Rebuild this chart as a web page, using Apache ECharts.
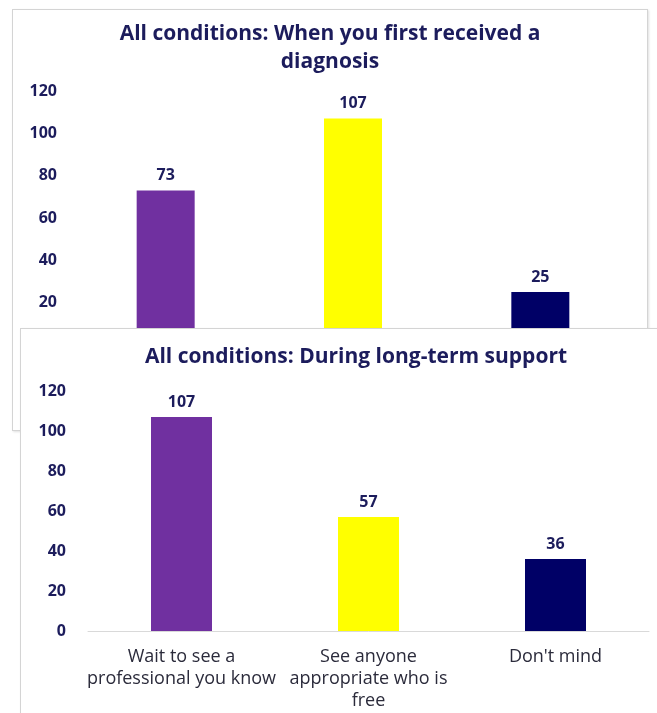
<!DOCTYPE html>
<html>
<head>
<meta charset="utf-8">
<script src="https://cdn.jsdelivr.net/npm/echarts@6/dist/echarts.min.js"></script>
<style>
    html, body { margin: 0; padding: 0; background: #fff; overflow: hidden; width: 657px; height: 713px; }
    .panel { position: absolute; background: #fff; border: 1px solid #d4d4d4; box-shadow: 1px 1px 2px rgba(0,0,0,0.12); }
    #diagnosisChart { left: 12px; top: 9px; width: 634px; height: 420px; }
    #supportChart { left: 20px; top: 328px; width: 670px; height: 400px; }
</style>
</head>
<body>
<div id="diagnosisChart" class="panel"></div>
<div id="supportChart" class="panel"></div>
<script>
    var categories = ['Wait to see a\nprofessional you know', 'See anyone\nappropriate who is\nfree', "Don't mind"];
    var diagnosisValues = [73, 107, 25];
    var supportValues = [107, 57, 36];
    var barColors = ['#7030a0', '#ffff00', '#000066'];
    var yTicks = [0, 20, 40, 60, 80, 100, 120];

    var navy = '#1c1c5c';
    var font = 'Open Sans';

    function makeOption(title, values, grid, titleTop, labelMargin, barWidth) {
        return {
            animation: false,
            title: {
                text: title,
                left: 'center',
                top: titleTop,
                textStyle: { fontFamily: font, fontSize: 21, fontWeight: 'bold', color: navy, lineHeight: 28 }
            },
            grid: grid,
            xAxis: {
                type: 'category',
                data: categories,
                axisLine: { lineStyle: { color: '#d9d9d9', width: 1 } },
                axisTick: { show: false },
                axisLabel: { fontFamily: font, fontSize: 18, color: '#2b2b3b', lineHeight: 22, margin: 15, interval: 0 }
            },
            yAxis: {
                type: 'value',
                min: yTicks[0],
                max: yTicks[yTicks.length - 1],
                interval: 20,
                splitLine: { show: false },
                axisLine: { show: false },
                axisTick: { show: false },
                axisLabel: { fontFamily: font, fontSize: 16, fontWeight: 'bold', color: navy, margin: labelMargin }
            },
            series: [{
                type: 'bar',
                barWidth: barWidth,
                data: values.map(function (v, i) {
                    return { value: v, itemStyle: { color: barColors[i] } };
                }),
                label: {
                    show: true,
                    position: 'top',
                    distance: 7,
                    fontFamily: font,
                    fontSize: 16,
                    fontWeight: 'bold',
                    color: navy
                }
            }]
        };
    }

    var diagnosisChart = echarts.init(document.getElementById('diagnosisChart'));
    diagnosisChart.setOption(makeOption(
        'All conditions: When you first received a\ndiagnosis',
        diagnosisValues,
        { left: 59, right: 13, top: 81, bottom: 85 },
        5, 15, 58
    ));

    var supportChart = echarts.init(document.getElementById('supportChart'));
    supportChart.setOption(makeOption(
        'All conditions: During long-term support',
        supportValues,
        { left: 67, right: 42, top: 62, bottom: 98 },
        9, 22, 61
    ));
</script>
</body>
</html>
